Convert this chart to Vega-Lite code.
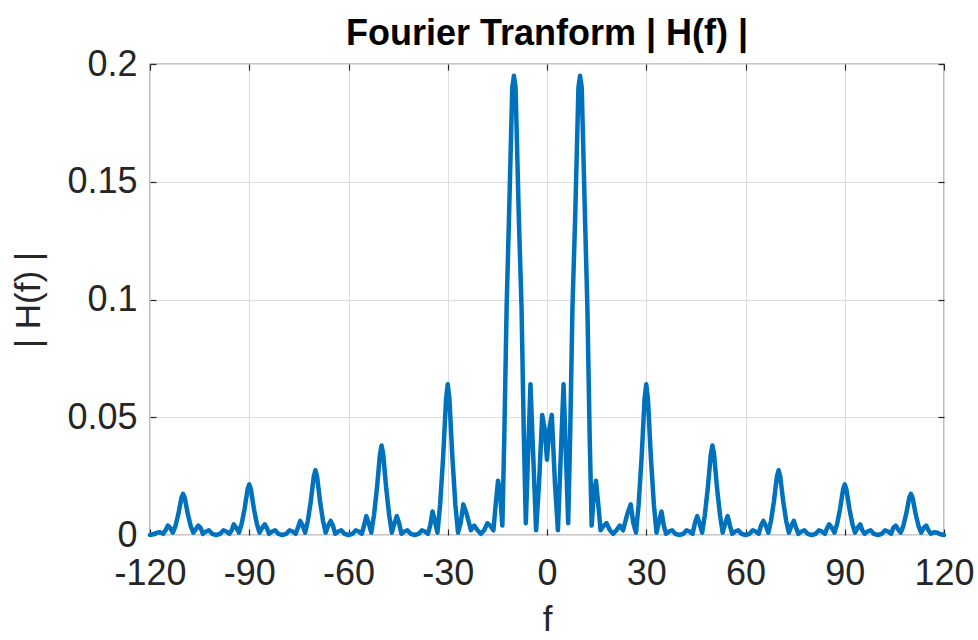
{
  "$schema": "https://vega.github.io/schema/vega-lite/v6.json",
  "width": 794,
  "height": 471,
  "autosize": {"type": "none"},
  "padding": {"left": 150, "top": 64, "right": 34, "bottom": 105},
  "background": "white",
  "title": {
    "text": "Fourier Tranform | H(f) |",
    "font": "Liberation Sans",
    "fontSize": 36,
    "fontWeight": "bold",
    "color": "#000000",
    "anchor": "middle",
    "offset": -7
  },
  "config": {
    "view": {"stroke": "#262626", "strokeWidth": 1.2},
    "axis": {
      "labelFont": "Liberation Sans",
      "labelFontSize": 36,
      "labelColor": "#262626",
      "titleFont": "Liberation Sans",
      "titleFontSize": 35,
      "titleFontWeight": "normal",
      "titleColor": "#262626",
      "domain": false,
      "tickColor": "#262626",
      "tickWidth": 1.2,
      "tickSize": -6,
      "gridColor": "#dedede",
      "gridWidth": 1
    }
  },
  "data": {
    "values": [
      {"f": 0, "H": 0.032},
      {"f": 0.7, "H": 0.045}, {"f": 1.45, "H": 0.051}, {"f": 2.4, "H": 0.022}, {"f": 3.3, "H": 0.002},
      {"f": 4.2, "H": 0.035}, {"f": 5.0, "H": 0.064}, {"f": 5.7, "H": 0.035}, {"f": 6.4, "H": 0.005},
      {"f": 7.0, "H": 0.042}, {"f": 7.7, "H": 0.097}, {"f": 8.5, "H": 0.134}, {"f": 9.5, "H": 0.19},
      {"f": 10.0, "H": 0.195}, {"f": 10.5, "H": 0.19}, {"f": 11.5, "H": 0.134}, {"f": 12.2, "H": 0.097},
      {"f": 12.9, "H": 0.042}, {"f": 13.5, "H": 0.004}, {"f": 14.2, "H": 0.018}, {"f": 14.8, "H": 0.023},
      {"f": 15.5, "H": 0.013}, {"f": 16.2, "H": 0.002}, {"f": 17.2, "H": 0.004}, {"f": 18.0, "H": 0.005},
      {"f": 19.0, "H": 0.002}, {"f": 20.0, "H": 0.0005}, {"f": 21.0, "H": 0.002}, {"f": 22.0, "H": 0.004},
      {"f": 23.0, "H": 0.002}, {"f": 24.3, "H": 0.009}, {"f": 25.3, "H": 0.013}, {"f": 26.1, "H": 0.005},
      {"f": 26.9, "H": 0.001}, {"f": 27.7, "H": 0.013}, {"f": 28.6, "H": 0.033}, {"f": 29.5, "H": 0.058},
      {"f": 30, "H": 0.064}, {"f": 30.5, "H": 0.058}, {"f": 31.4, "H": 0.033}, {"f": 32.3, "H": 0.013},
      {"f": 33.1, "H": 0.001}, {"f": 33.9, "H": 0.006}, {"f": 34.6, "H": 0.01}, {"f": 35.3, "H": 0.004},
      {"f": 36.0, "H": 0.0005}, {"f": 36.9, "H": 0.0015}, {"f": 37.8, "H": 0.002}, {"f": 38.8, "H": 0.0005},
      {"f": 40, "H": 0}, {"f": 41.2, "H": 0.0005}, {"f": 42.2, "H": 0.002}, {"f": 43.1, "H": 0.0015},
      {"f": 44.0, "H": 0.0005}, {"f": 44.7, "H": 0.005}, {"f": 45.4, "H": 0.008}, {"f": 46.1, "H": 0.005},
      {"f": 46.9, "H": 0.001}, {"f": 47.7, "H": 0.0084}, {"f": 48.6, "H": 0.0198}, {"f": 49.5, "H": 0.0342},
      {"f": 50, "H": 0.038}, {"f": 50.5, "H": 0.0342}, {"f": 51.4, "H": 0.0198}, {"f": 52.3, "H": 0.0084},
      {"f": 53.1, "H": 0.001}, {"f": 53.9, "H": 0.005}, {"f": 54.6, "H": 0.008}, {"f": 55.3, "H": 0.004},
      {"f": 56.0, "H": 0.0005}, {"f": 56.9, "H": 0.0015}, {"f": 57.8, "H": 0.002}, {"f": 58.8, "H": 0.0005},
      {"f": 60, "H": 0}, {"f": 61.2, "H": 0.0005}, {"f": 62.2, "H": 0.002}, {"f": 63.1, "H": 0.0015},
      {"f": 64.0, "H": 0.0005}, {"f": 64.7, "H": 0.004}, {"f": 65.4, "H": 0.006}, {"f": 66.1, "H": 0.004},
      {"f": 66.9, "H": 0.001}, {"f": 67.7, "H": 0.006}, {"f": 68.6, "H": 0.0143}, {"f": 69.5, "H": 0.0248},
      {"f": 70, "H": 0.0275}, {"f": 70.5, "H": 0.0248}, {"f": 71.4, "H": 0.0143}, {"f": 72.3, "H": 0.006},
      {"f": 73.1, "H": 0.001}, {"f": 73.9, "H": 0.004}, {"f": 74.6, "H": 0.006}, {"f": 75.3, "H": 0.003},
      {"f": 76.0, "H": 0.0005}, {"f": 76.9, "H": 0.0015}, {"f": 77.8, "H": 0.002}, {"f": 78.8, "H": 0.0005},
      {"f": 80, "H": 0}, {"f": 81.2, "H": 0.0005}, {"f": 82.2, "H": 0.002}, {"f": 83.1, "H": 0.0015},
      {"f": 84.0, "H": 0.0005}, {"f": 84.7, "H": 0.003}, {"f": 85.3, "H": 0.0045}, {"f": 86.1, "H": 0.003},
      {"f": 86.9, "H": 0.001}, {"f": 87.7, "H": 0.0047}, {"f": 88.6, "H": 0.0112}, {"f": 89.5, "H": 0.0194},
      {"f": 90, "H": 0.0215}, {"f": 90.5, "H": 0.0194}, {"f": 91.4, "H": 0.0112}, {"f": 92.3, "H": 0.0047},
      {"f": 93.1, "H": 0.001}, {"f": 93.9, "H": 0.003}, {"f": 94.7, "H": 0.0045}, {"f": 95.3, "H": 0.002},
      {"f": 96.0, "H": 0.0005}, {"f": 96.9, "H": 0.0015}, {"f": 97.8, "H": 0.002}, {"f": 98.8, "H": 0.0005},
      {"f": 100, "H": 0}, {"f": 101.2, "H": 0.0005}, {"f": 102.2, "H": 0.002}, {"f": 103.1, "H": 0.0015},
      {"f": 104.0, "H": 0.0005}, {"f": 104.7, "H": 0.003}, {"f": 105.4, "H": 0.004}, {"f": 106.1, "H": 0.0025},
      {"f": 106.9, "H": 0.001}, {"f": 107.7, "H": 0.0038}, {"f": 108.6, "H": 0.0091}, {"f": 109.5, "H": 0.0158},
      {"f": 110, "H": 0.0175}, {"f": 110.5, "H": 0.0158}, {"f": 111.4, "H": 0.0091}, {"f": 112.3, "H": 0.0038},
      {"f": 113.1, "H": 0.001}, {"f": 113.9, "H": 0.003}, {"f": 114.6, "H": 0.004}, {"f": 115.3, "H": 0.002},
      {"f": 116.0, "H": 0.0005}, {"f": 117.0, "H": 0.0012}, {"f": 118.0, "H": 0.001}, {"f": 119.0, "H": 0.0003},
      {"f": 120, "H": 0},
      {"f": -0.7, "H": 0.045}, {"f": -1.45, "H": 0.051}, {"f": -2.4, "H": 0.022}, {"f": -3.3, "H": 0.002},
      {"f": -4.2, "H": 0.035}, {"f": -5.0, "H": 0.064}, {"f": -5.7, "H": 0.035}, {"f": -6.4, "H": 0.005},
      {"f": -7.0, "H": 0.042}, {"f": -7.7, "H": 0.097}, {"f": -8.5, "H": 0.134}, {"f": -9.5, "H": 0.19},
      {"f": -10.0, "H": 0.195}, {"f": -10.5, "H": 0.19}, {"f": -11.5, "H": 0.134}, {"f": -12.2, "H": 0.097},
      {"f": -12.9, "H": 0.042}, {"f": -13.5, "H": 0.004}, {"f": -14.2, "H": 0.018}, {"f": -14.8, "H": 0.023},
      {"f": -15.5, "H": 0.013}, {"f": -16.2, "H": 0.002}, {"f": -17.2, "H": 0.004}, {"f": -18.0, "H": 0.005},
      {"f": -19.0, "H": 0.002}, {"f": -20.0, "H": 0.0005}, {"f": -21.0, "H": 0.002}, {"f": -22.0, "H": 0.004},
      {"f": -23.0, "H": 0.002}, {"f": -24.3, "H": 0.009}, {"f": -25.3, "H": 0.013}, {"f": -26.1, "H": 0.005},
      {"f": -26.9, "H": 0.001}, {"f": -27.7, "H": 0.013}, {"f": -28.6, "H": 0.033}, {"f": -29.5, "H": 0.058},
      {"f": -30, "H": 0.064}, {"f": -30.5, "H": 0.058}, {"f": -31.4, "H": 0.033}, {"f": -32.3, "H": 0.013},
      {"f": -33.1, "H": 0.001}, {"f": -33.9, "H": 0.006}, {"f": -34.6, "H": 0.01}, {"f": -35.3, "H": 0.004},
      {"f": -36.0, "H": 0.0005}, {"f": -36.9, "H": 0.0015}, {"f": -37.8, "H": 0.002}, {"f": -38.8, "H": 0.0005},
      {"f": -40, "H": 0}, {"f": -41.2, "H": 0.0005}, {"f": -42.2, "H": 0.002}, {"f": -43.1, "H": 0.0015},
      {"f": -44.0, "H": 0.0005}, {"f": -44.7, "H": 0.005}, {"f": -45.4, "H": 0.008}, {"f": -46.1, "H": 0.005},
      {"f": -46.9, "H": 0.001}, {"f": -47.7, "H": 0.0084}, {"f": -48.6, "H": 0.0198}, {"f": -49.5, "H": 0.0342},
      {"f": -50, "H": 0.038}, {"f": -50.5, "H": 0.0342}, {"f": -51.4, "H": 0.0198}, {"f": -52.3, "H": 0.0084},
      {"f": -53.1, "H": 0.001}, {"f": -53.9, "H": 0.005}, {"f": -54.6, "H": 0.008}, {"f": -55.3, "H": 0.004},
      {"f": -56.0, "H": 0.0005}, {"f": -56.9, "H": 0.0015}, {"f": -57.8, "H": 0.002}, {"f": -58.8, "H": 0.0005},
      {"f": -60, "H": 0}, {"f": -61.2, "H": 0.0005}, {"f": -62.2, "H": 0.002}, {"f": -63.1, "H": 0.0015},
      {"f": -64.0, "H": 0.0005}, {"f": -64.7, "H": 0.004}, {"f": -65.4, "H": 0.006}, {"f": -66.1, "H": 0.004},
      {"f": -66.9, "H": 0.001}, {"f": -67.7, "H": 0.006}, {"f": -68.6, "H": 0.0143}, {"f": -69.5, "H": 0.0248},
      {"f": -70, "H": 0.0275}, {"f": -70.5, "H": 0.0248}, {"f": -71.4, "H": 0.0143}, {"f": -72.3, "H": 0.006},
      {"f": -73.1, "H": 0.001}, {"f": -73.9, "H": 0.004}, {"f": -74.6, "H": 0.006}, {"f": -75.3, "H": 0.003},
      {"f": -76.0, "H": 0.0005}, {"f": -76.9, "H": 0.0015}, {"f": -77.8, "H": 0.002}, {"f": -78.8, "H": 0.0005},
      {"f": -80, "H": 0}, {"f": -81.2, "H": 0.0005}, {"f": -82.2, "H": 0.002}, {"f": -83.1, "H": 0.0015},
      {"f": -84.0, "H": 0.0005}, {"f": -84.7, "H": 0.003}, {"f": -85.3, "H": 0.0045}, {"f": -86.1, "H": 0.003},
      {"f": -86.9, "H": 0.001}, {"f": -87.7, "H": 0.0047}, {"f": -88.6, "H": 0.0112}, {"f": -89.5, "H": 0.0194},
      {"f": -90, "H": 0.0215}, {"f": -90.5, "H": 0.0194}, {"f": -91.4, "H": 0.0112}, {"f": -92.3, "H": 0.0047},
      {"f": -93.1, "H": 0.001}, {"f": -93.9, "H": 0.003}, {"f": -94.7, "H": 0.0045}, {"f": -95.3, "H": 0.002},
      {"f": -96.0, "H": 0.0005}, {"f": -96.9, "H": 0.0015}, {"f": -97.8, "H": 0.002}, {"f": -98.8, "H": 0.0005},
      {"f": -100, "H": 0}, {"f": -101.2, "H": 0.0005}, {"f": -102.2, "H": 0.002}, {"f": -103.1, "H": 0.0015},
      {"f": -104.0, "H": 0.0005}, {"f": -104.7, "H": 0.003}, {"f": -105.4, "H": 0.004}, {"f": -106.1, "H": 0.0025},
      {"f": -106.9, "H": 0.001}, {"f": -107.7, "H": 0.0038}, {"f": -108.6, "H": 0.0091}, {"f": -109.5, "H": 0.0158},
      {"f": -110, "H": 0.0175}, {"f": -110.5, "H": 0.0158}, {"f": -111.4, "H": 0.0091}, {"f": -112.3, "H": 0.0038},
      {"f": -113.1, "H": 0.001}, {"f": -113.9, "H": 0.003}, {"f": -114.6, "H": 0.004}, {"f": -115.3, "H": 0.002},
      {"f": -116.0, "H": 0.0005}, {"f": -117.0, "H": 0.0012}, {"f": -118.0, "H": 0.001}, {"f": -119.0, "H": 0.0003},
      {"f": -120, "H": 0}
    ]
  },
  "layer": [
    {
      "mark": {"type": "line", "color": "#0072BD", "strokeWidth": 4.5, "strokeJoin": "round", "strokeCap": "round"},
      "encoding": {
        "x": {
          "field": "f", "type": "quantitative",
          "scale": {"domain": [-120, 120], "nice": false, "zero": false},
          "axis": {
            "orient": "bottom",
            "values": [-120, -90, -60, -30, 0, 30, 60, 90, 120],
            "labelExpr": "'' + datum.value",
            "labelPadding": 27,
            "labelFlush": false,
            "title": "f",
            "titlePadding": 11,
            "grid": true
          }
        },
        "y": {
          "field": "H", "type": "quantitative",
          "scale": {"domain": [0, 0.2], "nice": false},
          "axis": {
            "orient": "left",
            "values": [0, 0.05, 0.1, 0.15, 0.2],
            "labelExpr": "'' + datum.value",
            "labelPadding": 19,
            "labelFlush": false,
            "title": "| H(f) |",
            "titlePadding": 20,
            "grid": true
          }
        }
      }
    },
    {
      "mark": {"type": "line", "opacity": 0},
      "encoding": {
        "x": {
          "field": "f", "type": "quantitative",
          "axis": {
            "orient": "top",
            "values": [-120, -90, -60, -30, 0, 30, 60, 90, 120],
            "labels": false, "grid": false, "title": null
          }
        },
        "y": {
          "field": "H", "type": "quantitative",
          "axis": {
            "orient": "right",
            "values": [0, 0.05, 0.1, 0.15, 0.2],
            "labels": false, "grid": false, "title": null
          }
        }
      }
    }
  ],
  "resolve": {"axis": {"x": "independent", "y": "independent"}}
}
